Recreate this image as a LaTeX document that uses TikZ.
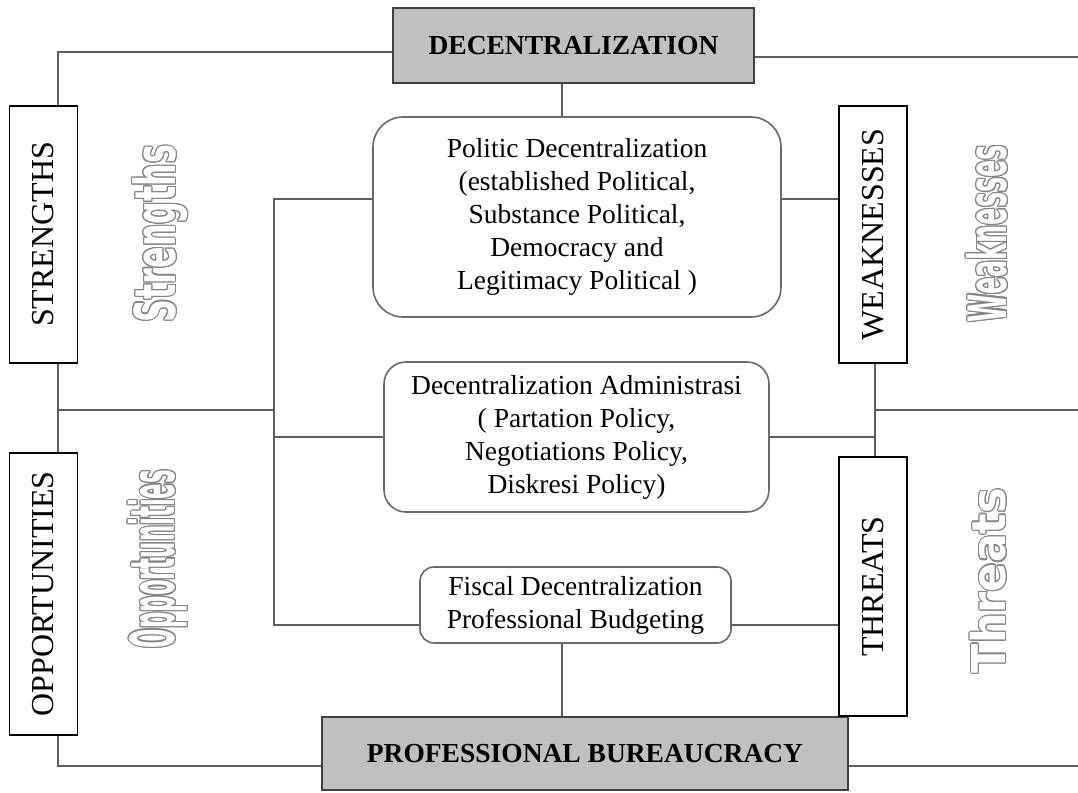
\documentclass[tikz,border=0pt]{standalone}
\usepackage{fontspec}
\setmainfont{Liberation Serif}
\newfontfamily\decofont{DejaVu Sans}
\usepackage{graphicx}
\usepackage{contour}
\contourlength{1.1pt}
\usetikzlibrary{calc}
\definecolor{boxgray}{HTML}{C0C0C0}
\definecolor{linegray}{HTML}{5E5E5E}
\definecolor{edgegray}{HTML}{6A6A6A}
\definecolor{wordgray}{HTML}{858585}
\def\outlineword#1#2#3% Syntax: {word}{length}{total height}
{{\color{white}\contour{wordgray}{\resizebox*{#2}{#3}{\decofont\bfseries #1}}}}
\tikzset{
	headbox/.style={draw=black!75,fill=boxgray,line width=1.6pt,inner sep=0pt,font=\fontsize{27.5}{33}\selectfont\bfseries},
	roundbox/.style={draw=edgegray,line width=1.6pt,align=center,inner sep=0pt,font=\fontsize{27.5}{33}\selectfont},
	swotbox/.style={draw=black,line width=1.4pt,minimum width=68pt,inner sep=0pt,font=\fontsize{32}{38}\selectfont},
	conn/.style={draw=linegray,line width=1.6pt},
}

\begin{document}
\begin{tikzpicture}[x=1pt,y=-1pt]
	\useasboundingbox (0,0) rectangle (1078,792);
	%MAIN BOXES
	\node[headbox,minimum width=361pt,minimum height=75pt] (dec) at (573.5,45.5) {DECENTRALIZATION};
	\node[headbox,minimum width=526pt,minimum height=73pt] (bur) at (585,753.5) {PROFESSIONAL BUREAUCRACY};
	%
	\node[roundbox,minimum width=408pt,minimum height=200pt,rounded corners=30pt] (pol) at (577,217) {Politic Decentralization\\(established Political,\\Substance Political,\\Democracy and\\Legitimacy Political )};
	\node[roundbox,minimum width=385pt,minimum height=150pt,rounded corners=22pt] (adm) at (576.5,437) {Decentralization Administrasi\\( Partation Policy,\\Negotiations Policy,\\Diskresi Policy)};
	\node[roundbox,minimum width=311pt,minimum height=76pt,rounded corners=14pt] (fis) at (575.5,605) {Fiscal Decentralization\\Professional Budgeting};
	
	%SWOT LABELS
	\node[swotbox,minimum height=257pt] (str) at (43.5,234.5) {\rotatebox{90}{STRENGTHS}};
	\node[swotbox,minimum height=282pt] (opp) at (43.5,594) {\rotatebox{90}{OPPORTUNITIES}};
	\node[swotbox,minimum height=257pt] (wea) at (873,234.5) {\rotatebox{90}{WEAKNESSES}};
	\node[swotbox,minimum height=259pt] (thr) at (873,586.5) {\rotatebox{90}{THREATS}};
	%
	\node[rotate=90,inner sep=0pt] (strw) at (160.5,233.5) {\outlineword{Strengths}{177pt}{55pt}};
	\node[rotate=90,inner sep=0pt] (oppw) at (158.5,559) {\outlineword{Opportunities}{178pt}{59pt}};
	\node[rotate=90,inner sep=0pt] (weaw) at (987.5,233.5) {\outlineword{Weaknesses}{177pt}{41pt}};
	\node[rotate=90,inner sep=0pt] (thrw) at (989,580.5) {\outlineword{Threats}{185pt}{36pt}};
	
	%CONNECTORS
	\coordinate (lx) at (58,410);	%left spine
	\coordinate (mx) at (274,410);	%inner spine
	\coordinate (rx) at (875,410);	%right spine
	\coordinate (cx) at (562,0);	%centre line
	\coordinate (tr) at (1078,57);
	\coordinate (mr) at (1078,410);
	\coordinate (br) at (1078,766);
	\coordinate (pe) at ([yshift=18pt]pol.east);
	\coordinate (fe) at ([yshift=-20pt]fis.east);
	%
	\draw[conn] ([yshift=-6.5pt]dec.west) -| (str.north -| lx);
	\draw[conn] ([yshift=-11.5pt]dec.east) -- (tr);
	\draw[conn] (dec.south -| cx) -- (pol.north -| cx);
	\draw[conn] (str.south -| lx) -- (opp.north -| lx);
	\draw[conn] (lx) -- (mx);
	\draw[conn] (opp.south -| lx) |- ([yshift=-12.5pt]bur.west);
	\draw[conn] ([yshift=-12.5pt]bur.east) -- (br);
	%
	\draw[conn] ([yshift=18pt]pol.west) -| (mx) |- ([yshift=-20pt]fis.west);
	\draw[conn] (adm.west) -- (adm.west -| mx);
	\draw[conn] (fis.south -| cx) -- (bur.north -| cx);
	%
	\draw[conn] (pe) -- (pe -| wea.west);
	\draw[conn] (wea.south -| rx) -- (thr.north -| rx);
	\draw[conn] (rx) -- (mr);
	\draw[conn] (adm.east) -- (adm.east -| rx);
	\draw[conn] (fe) -- (fe -| thr.west);
\end{tikzpicture}
\end{document}
